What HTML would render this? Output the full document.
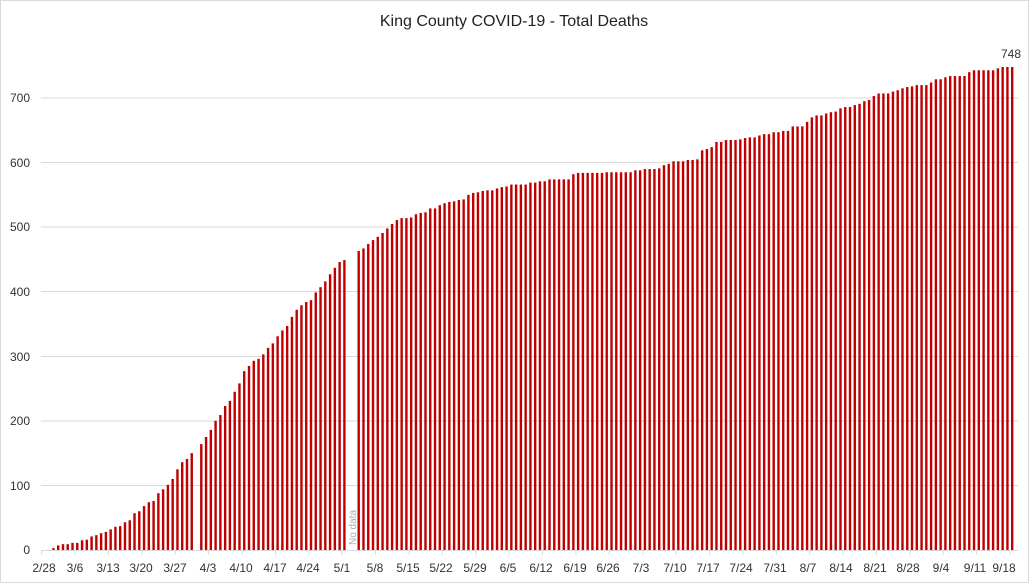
<!DOCTYPE html>
<html><head><meta charset="utf-8"><style>
html,body{margin:0;padding:0;background:#fff;}
svg{display:block;font-family:"Liberation Sans",sans-serif;}
</style></head><body>
<svg id="c" width="1029" height="583" viewBox="0 0 1029 583" xmlns="http://www.w3.org/2000/svg">
<rect x="0.5" y="0.5" width="1028" height="582" fill="#fff" stroke="#d9d9d9"/>
<text x="514" y="26" font-size="16" text-anchor="middle" fill="#222">King County COVID-19 - Total Deaths</text>
<g stroke="#d9d9d9" stroke-width="1">
<line x1="41" y1="485.5" x2="1018" y2="485.5"/>
<line x1="41" y1="421" x2="1018" y2="421"/>
<line x1="41" y1="356.5" x2="1018" y2="356.5"/>
<line x1="41" y1="291.5" x2="1018" y2="291.5"/>
<line x1="41" y1="227" x2="1018" y2="227"/>
<line x1="41" y1="162.5" x2="1018" y2="162.5"/>
<line x1="41" y1="98" x2="1018" y2="98"/>
</g>
<g font-size="12" fill="#333" text-anchor="end">
<text x="30" y="554">0</text>
<text x="30" y="490">100</text>
<text x="30" y="425">200</text>
<text x="30" y="361">300</text>
<text x="30" y="296">400</text>
<text x="30" y="231">500</text>
<text x="30" y="167">600</text>
<text x="30" y="102">700</text>
</g>
<g id="bars" fill="#c00000"></g>
<line x1="41" y1="550.5" x2="1018" y2="550.5" stroke="#d9d9d9"/>
<g id="ticks" stroke="#d9d9d9"></g>
<text transform="translate(356,545) rotate(-90)" font-size="10" fill="#aaa">No data</text>
<text x="1011" y="58" font-size="12" fill="#333" text-anchor="middle">748</text>
<g font-size="12" fill="#333" text-anchor="middle">
<text x="44" y="572">2/28</text><text x="75" y="572">3/6</text><text x="108" y="572">3/13</text><text x="141" y="572">3/20</text><text x="175" y="572">3/27</text><text x="208" y="572">4/3</text><text x="241" y="572">4/10</text><text x="275" y="572">4/17</text><text x="308" y="572">4/24</text><text x="342" y="572">5/1</text><text x="375" y="572">5/8</text><text x="408" y="572">5/15</text><text x="441" y="572">5/22</text><text x="475" y="572">5/29</text><text x="508" y="572">6/5</text><text x="541" y="572">6/12</text><text x="575" y="572">6/19</text><text x="608" y="572">6/26</text><text x="641" y="572">7/3</text><text x="675" y="572">7/10</text><text x="708" y="572">7/17</text><text x="741" y="572">7/24</text><text x="775" y="572">7/31</text><text x="808" y="572">8/7</text><text x="841" y="572">8/14</text><text x="875" y="572">8/21</text><text x="908" y="572">8/28</text><text x="941" y="572">9/4</text><text x="975" y="572">9/11</text><text x="1004" y="572">9/18</text>
</g>
</svg>
<script>
var v=[0,0,3,7,9,9,11,11,15,16,21,23,26,28,32,36,37,43,46,57,60,68,74,76,88,94,101,110,125,136,141,150,null,164,175,186,200,209,223,231,245,258,277,285,293,296,303,313,320,331,340,347,361,372,379,384,387,399,407,416,427,437,446,449,null,null,463,467,474,480,485,491,498,505,511,514,514,515,520,522,523,529,529,534,537,539,540,542,543,550,553,554,556,557,557,560,562,563,566,566,566,566,569,569,571,571,574,574,574,574,574,
582,584,584,584,584,584,584,585,585,585,585,585,585,588,588,590,590,590,591,596,598,602,602,602,604,604,605,619,621,624,632,632,635,635,635,636,638,639,639,642,644,644,647,647,649,649,
656,656,656,663,670,673,673,676,678,679,684,686,686,689,691,695,697,703,707,707,707,710,712,715,717,718,720,720,720,724,729,729,732,734,734,734,734,740,743,743,743,743,743,746,748,748,748];
var ns="http://www.w3.org/2000/svg",g=document.getElementById("bars"),t=document.getElementById("ticks");
for(var i=0;i<v.length;i++){if(!v[i])continue;var cx=41.5+4.77*(i+0.5),h=v[i]*0.6457;
var r=document.createElementNS(ns,"rect");r.setAttribute("x",cx-1.2);r.setAttribute("width",2.4);r.setAttribute("y",550-h);r.setAttribute("height",h);g.appendChild(r);}
for(var k=0;k<30;k++){var x=41.7+33.39*k;var l=document.createElementNS(ns,"line");l.setAttribute("x1",x);l.setAttribute("x2",x);l.setAttribute("y1",550);l.setAttribute("y2",555);t.appendChild(l);}
</script>
</body></html>
